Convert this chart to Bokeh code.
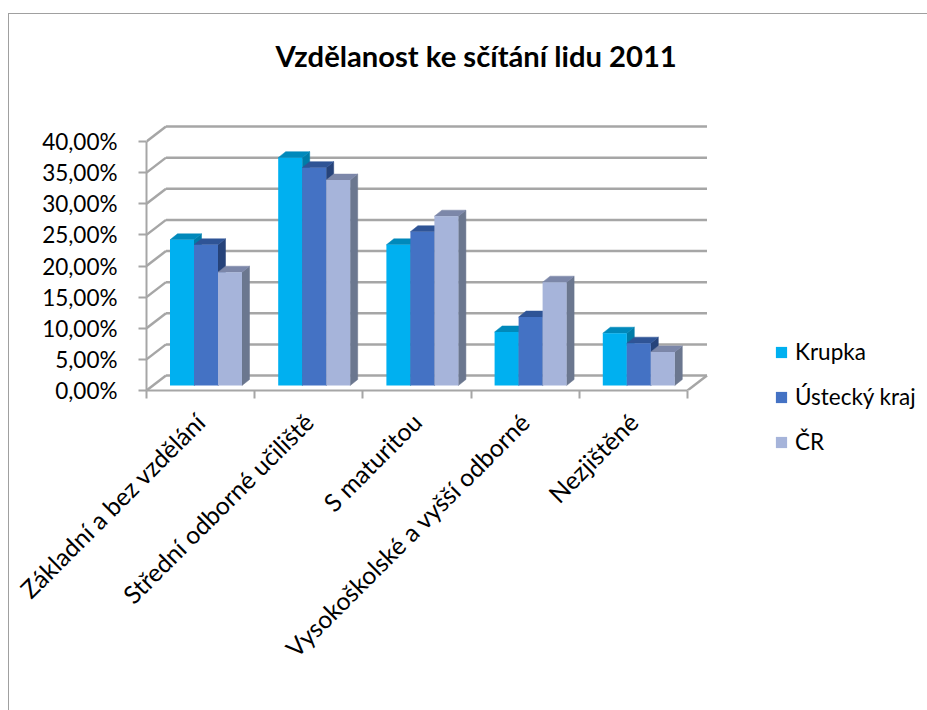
from bokeh.plotting import figure
from bokeh.models import (Range1d, FixedTicker, Legend, LegendItem)
from bokeh.embed import file_html
from bokeh.resources import INLINE

categories = ["Základní a bez vzdělání", "Střední odborné učiliště", "S maturitou",
              "Vysokoškolské a vyšší odborné", "Nezjištěné"]
series_names = ["Krupka", "Ústecký kraj", "ČR"]
krupka = [23.4, 36.6, 22.6, 8.6, 8.4]
ustecky = [22.6, 35.0, 24.7, 11.0, 6.8]
cr = [18.2, 33.0, 27.2, 16.6, 5.4]
y_ticks = [0, 5, 10, 15, 20, 25, 30, 35, 40]
y_labels = ["0,00%", "5,00%", "10,00%", "15,00%", "20,00%", "25,00%", "30,00%", "35,00%", "40,00%"]
front_colors = ["#00B0F0", "#4472C4", "#A6B4DA"]
top_colors = ["#0089BB", "#2F5496", "#7C87A9"]
side_colors = ["#007CA8", "#26437A", "#6B778F"]

W, H = 918, 696
PX_X = 108.2   # pixels per category
PX_Y = 6.225   # pixels per percent
L, BOT, TOP = 137, 320, 71
FW, FH = 566, 305
x_end = FW / PX_X
y_end = FH / PX_Y

# depth of the 3D box and bars, in data units
WALL_DX, WALL_DY = 19.5 / PX_X, 15 / PX_Y
BAR_DX, BAR_DY = 7.5 / PX_X, 6 / PX_Y
BAR_BASE = 5 / PX_Y
BAR_W = 24 / PX_X
GROUP_PAD = 23.5 / PX_X

GRID = "#A6A6A6"
FONT = "Lato"

p = figure(width=W, height=H, frame_width=FW, frame_height=FH,
           output_backend="svg", toolbar_location=None,
           x_range=Range1d(0, x_end), y_range=Range1d(0, y_end),
           min_border_left=L, min_border_bottom=BOT, min_border_top=TOP, min_border_right=0,
           title="Vzdělanost ke sčítání lidu 2011")
p.margin = (13, 0, 0, 8)
p.styles = {"border-left": "1px solid #A0A0A0", "border-top": "1px solid #A0A0A0"}
p.outline_line_color = None
p.grid.visible = False
p.background_fill_color = "white"

p.title.text_font = FONT
p.title.text_font_style = "bold"
p.title.text_font_size = "29.2px"
p.title.text_color = "black"
p.title.align = "left"
p.title.offset = 129
p.title.standoff = 25

# y axis
ya = p.yaxis[0]
ya.bounds = (0, 40)
ya.ticker = FixedTicker(ticks=y_ticks)
ya.major_label_overrides = dict(zip(y_ticks, y_labels))
ya.major_label_text_font = FONT
ya.major_label_text_font_size = "22.5px"
ya.major_label_text_color = "black"
ya.major_label_standoff = 21
ya.major_tick_in = 0
ya.major_tick_out = 8
ya.minor_tick_out = 0
ya.minor_tick_in = 0
ya.axis_line_color = GRID
ya.axis_line_width = 2
ya.major_tick_line_color = GRID
ya.major_tick_line_width = 2

# x axis: labels in the category centres, tick marks on the boundaries
xa = p.xaxis[0]
xa.bounds = (0, len(categories))
centres = [i + 0.5 for i in range(len(categories))]
xa.ticker = FixedTicker(ticks=centres, minor_ticks=list(range(len(categories) + 1)))
xa.major_label_overrides = dict(zip(centres, categories))
xa.major_label_orientation = 0.785
xa.major_label_text_font = FONT
xa.major_label_text_font_size = "24.7px"
xa.major_label_text_color = "black"
xa.major_label_standoff = 19
xa.major_tick_in = 0
xa.major_tick_out = 0
xa.minor_tick_in = 0
xa.minor_tick_out = 8
xa.minor_tick_line_color = GRID
xa.minor_tick_line_width = 2
xa.axis_line_color = GRID
xa.axis_line_width = 2

# walls
n = len(categories)
p.segment(x0=[0] * len(y_ticks), y0=y_ticks, x1=[WALL_DX] * len(y_ticks),
          y1=[v + WALL_DY for v in y_ticks], line_color=GRID, line_width=2.5)
p.segment(x0=[WALL_DX] * len(y_ticks), y0=[v + WALL_DY for v in y_ticks],
          x1=[n + WALL_DX] * len(y_ticks), y1=[v + WALL_DY for v in y_ticks],
          line_color=GRID, line_width=2.5)
p.segment(x0=[n], y0=[0], x1=[n + WALL_DX], y1=[WALL_DY], line_color=GRID, line_width=2.5)

# bars
renderers = []
for s, vals in enumerate([krupka, ustecky, cr]):
    x0 = [i + GROUP_PAD + s * BAR_W for i in range(n)]
    x1 = [x + BAR_W for x in x0]
    top = [BAR_BASE + v for v in vals]
    side_xs = [[a, a, a + BAR_DX, a + BAR_DX] for a in x1]
    side_ys = [[BAR_BASE, t, t + BAR_DY, BAR_BASE + BAR_DY] for t in top]
    top_xs = [[a, b, b + BAR_DX, a + BAR_DX] for a, b in zip(x0, x1)]
    top_ys = [[t, t, t + BAR_DY, t + BAR_DY] for t in top]
    p.patches(side_xs, side_ys, fill_color=side_colors[s], line_color=side_colors[s], line_width=0.5)
    p.patches(top_xs, top_ys, fill_color=top_colors[s], line_color=top_colors[s], line_width=0.5)
    r = p.quad(left=x0, right=x1, bottom=[BAR_BASE] * n, top=top,
               fill_color=front_colors[s], line_color=None)
    renderers.append(r)

legend = Legend(items=[LegendItem(label=nm, renderers=[r]) for nm, r in zip(series_names, renderers)],
                location=(62, -65), orientation="vertical")
legend.border_line_color = None
legend.background_fill_alpha = 0
legend.glyph_width = 14
legend.glyph_height = 14
legend.label_standoff = 7
legend.spacing = 18
legend.label_text_font = FONT
legend.label_text_font_size = "22.5px"
legend.label_text_color = "black"
legend.padding = 0
legend.margin = 0
p.add_layout(legend, "right")

open("out.html", "w").write(file_html(p, INLINE))
